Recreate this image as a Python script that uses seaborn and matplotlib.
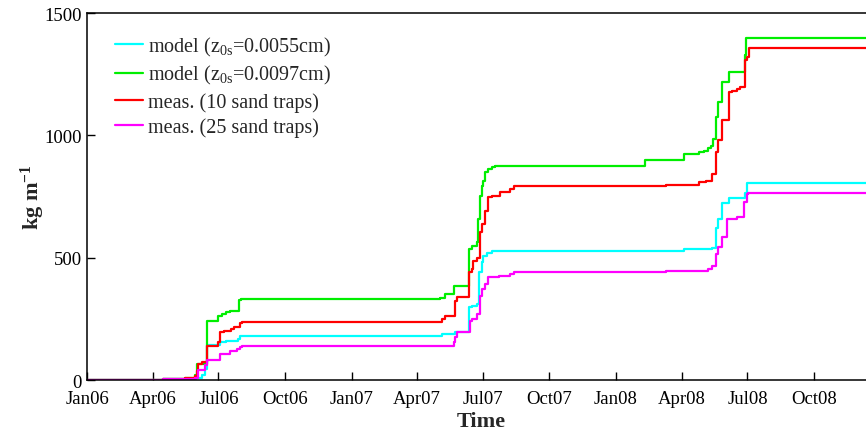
import numpy as np
import pandas as pd
import matplotlib
matplotlib.use("Agg")
import matplotlib.pyplot as plt
import matplotlib.dates as mdates
import seaborn as sns

# ---- data (day offsets since 2006-01-01, cumulative transport kg m^-1) ----
start = "2006-01-01"

cyan_days = [0, 70, 105, 135, 150, 158, 162, 165, 181, 183, 192, 208, 211,
             487, 490, 508, 527, 531, 538, 541.7, 545, 547, 552, 559,
             775, 824, 863, 868, 872, 877, 886, 909, 911.4, 1100]
cyan_vals = [0, 1, 3, 5, 8, 20, 45, 143, 143, 154, 160, 168, 181,
             181, 188, 195, 297, 304, 311, 440, 481, 508, 518, 526,
             528, 536, 540, 620, 658, 723, 743, 765, 806, 806]

green_days = [0, 70, 105, 135, 148, 151, 165, 181, 186, 192, 197, 210, 212,
              487, 494, 506, 527.5, 531, 538, 540, 542.6, 545, 547, 549.6, 554, 559, 563,
              771, 824, 845, 852, 858, 861, 865, 868, 872, 877, 886, 908, 910, 1100]
green_vals = [0, 2, 5, 8, 20, 65, 242, 262, 271, 277, 283, 325, 331,
              337, 350, 386, 536, 549, 563, 658, 754, 795, 815, 849, 861, 870, 873,
              901, 924, 931, 938, 950, 958, 986, 1074, 1136, 1220, 1258, 1330, 1398, 1398]

red_days = [0, 70, 105, 135, 148, 151, 153, 158, 164.8, 181, 183, 188, 199, 202, 211, 213,
            487, 489.7, 494, 508, 510, 527.5, 531, 533.4, 538, 542.6, 545, 549.6, 554, 559,
            570, 584, 589, 730, 800, 845, 855, 863, 868, 872, 877, 886, 891, 898, 902,
            908, 911, 914, 1100]
red_vals = [0, 2, 5, 8, 15, 38, 65, 75, 140, 154, 195, 200, 209, 215, 233, 236,
            236, 250, 263, 324, 338, 440, 455, 488, 500, 604, 638, 692, 747, 754,
            768, 781, 792, 794, 798, 808, 815, 843, 931, 979, 1061, 1177, 1183, 1190, 1197,
            1306, 1320, 1358, 1358]

magenta_days = [0, 70, 105, 135, 148, 153, 162, 165, 181, 183, 197, 206, 211, 213,
                487, 506, 508, 511, 529, 531, 538, 542.6, 545, 549.6, 554, 568, 584, 589,
                750, 800, 850, 858, 863, 868, 872, 877, 884, 898, 907, 911, 913, 1100]
magenta_vals = [0, 1, 3, 5, 10, 40, 60, 83, 83, 106, 120, 127, 134, 137,
                137, 154, 175, 195, 243, 250, 270, 345, 372, 393, 420, 427, 434, 443,
                443, 445, 447, 454, 467, 515, 543, 584, 658, 668, 727, 761, 764, 764]

labels = ["model (z$_{0s}$=0.0055cm)",
          "model (z$_{0s}$=0.0097cm)",
          "meas. (10 sand traps)",
          "meas. (25 sand traps)"]
colors = ["#00FFFF", "#00EE00", "#FF0000", "#FF00FF"]

series = [(cyan_days, cyan_vals), (green_days, green_vals),
          (red_days, red_vals), (magenta_days, magenta_vals)]

frames = []
for lab, (d, v) in zip(labels, series):
    frames.append(pd.DataFrame({
        "date": pd.Timestamp(start) + pd.to_timedelta(np.array(d, dtype=float), unit="D"),
        "value": v,
        "series": lab,
    }))
df = pd.concat(frames, ignore_index=True)

# ---- style ----
sns.set_theme(style="ticks")
plt.rcParams["font.family"] = ["Liberation Serif", "DejaVu Serif"]
plt.rcParams["mathtext.fontset"] = "custom"
plt.rcParams["mathtext.rm"] = "Liberation Serif"
plt.rcParams["mathtext.it"] = "Liberation Serif"
plt.rcParams["mathtext.bf"] = "Liberation Serif:bold"
plt.rcParams["mathtext.default"] = "regular"

fig = plt.figure(figsize=(8.66, 4.35), dpi=100)
ax = fig.add_axes([0.101, 0.1241, 0.91, 0.8437])

sns.lineplot(data=df, x="date", y="value", hue="series", hue_order=labels,
             palette=colors, estimator=None, sort=False, drawstyle="steps-post",
             linewidth=1.6, ax=ax)

ax.set_xlim(pd.Timestamp("2006-01-01"), pd.Timestamp("2006-01-01") + pd.Timedelta(days=1089))
ax.set_ylim(0, 1500)
ax.set_yticks([0, 500, 1000, 1500])
ax.xaxis.set_major_locator(mdates.MonthLocator(bymonth=[1, 4, 7, 10]))
ax.xaxis.set_major_formatter(mdates.DateFormatter("%b%y"))
ax.tick_params(direction="in", length=6, width=1, labelsize=13.5, colors="black")
ax.tick_params(axis="x", pad=7)
ax.tick_params(axis="y", pad=4)
for sp in ax.spines.values():
    sp.set_visible(True)
    sp.set_color("black")
    sp.set_linewidth(1.1)

ax.set_xlabel("Time", fontsize=16, fontweight="bold", labelpad=3)
ax.set_ylabel("kg m$^{-1}$", fontsize=16, fontweight="bold", labelpad=-2)

leg = ax.legend(loc="upper left", bbox_to_anchor=(0.002, 1.012), frameon=False,
                fontsize=14.5, handlelength=1.4, handletextpad=0.25, labelspacing=0.28,
                borderaxespad=0.9)
for line in leg.get_lines():
    line.set_linewidth(1.6)

fig.savefig("out.png", dpi=100)
